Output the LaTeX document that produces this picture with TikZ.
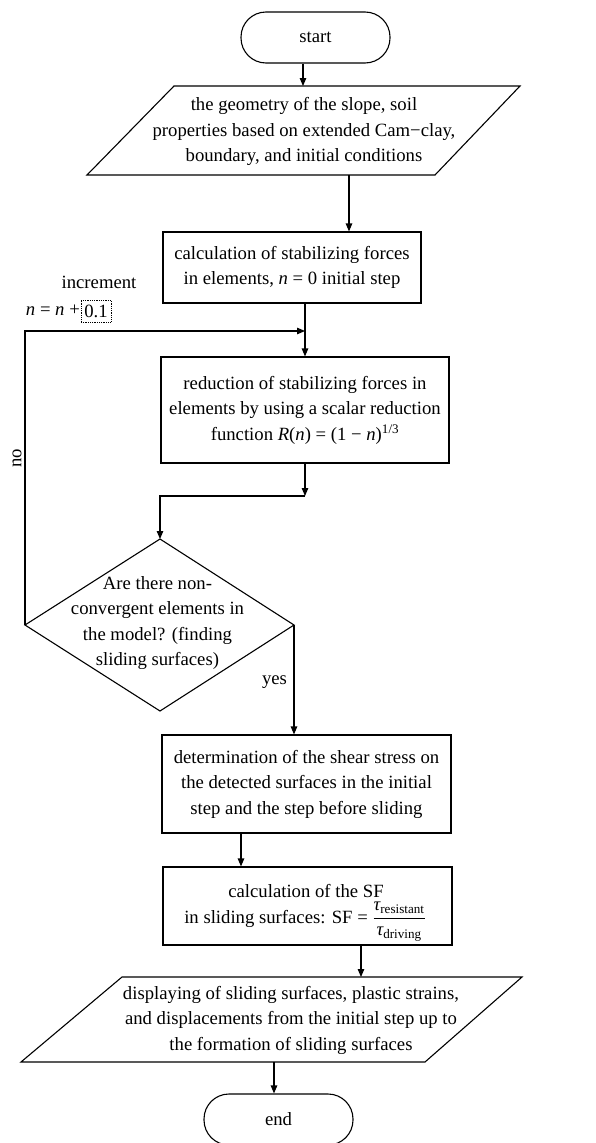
\RequirePackage{fix-cm}
\documentclass[tikz,border=0pt]{standalone}
\usepackage{amsmath}
\usepackage{fontspec}
\setmainfont{Liberation Serif}
\usetikzlibrary{arrows.meta}
\begin{document}
\begin{tikzpicture}[x=1pt,y=-1pt,
  every node/.style={font=\fontsize{18.7}{25.5}\selectfont, inner sep=0pt},
  box/.style={draw, line width=1.1pt, align=center},
  term/.style={draw, rounded corners=25pt, line width=1.1pt, minimum width=149pt, minimum height=51pt},
  txt/.style={align=center},
  arr/.style={-{Triangle[length=8pt,width=6.5pt]}, line width=1.1pt},
  ln/.style={line width=1.1pt}]
\useasboundingbox (0,0) rectangle (595,1143);

% start
\node[term] (start) at (315.5,37.5) {start};

% input parallelogram
\coordinate (p1a) at (174,86);
\coordinate (p1b) at (520,86);
\coordinate (p1c) at (435,175);
\coordinate (p1d) at (87,175);
\draw[ln] (p1a)--(p1b)--(p1c)--(p1d)--cycle;
\node[txt] (p1) at (304,131.5) {the geometry of the slope, soil\\properties based on extended Cam−clay,\\boundary, and initial conditions};

% boxes
\node[box, minimum width=258pt, minimum height=71pt] (b2) at (292,267.5)
  {calculation of stabilizing forces\\in elements, \textit{n} = 0 initial step};
\node[box, minimum width=288pt, minimum height=106pt] (b3) at (305,410)
  {reduction of stabilizing forces in\\elements by using a scalar reduction\\function \textit{R}(\textit{n}) = (1 − \textit{n})\textsuperscript{1/3}};

% decision
\coordinate (dT) at (160,539);
\coordinate (dL) at (25,625);
\coordinate (dR) at (294,625);
\coordinate (dB) at (160,711);
\draw[ln] (dT)--(dR)--(dB)--(dL)--cycle;
\node[txt] (dtext) at (157.5,623) {Are there non-\\convergent elements in\\the model? (finding\\sliding surfaces)};

\node[box, minimum width=289pt, minimum height=98pt] (b4) at (306.5,784)
  {determination of the shear stress on\\the detected surfaces in the initial\\step and the step before sliding};
\node[box, minimum width=289pt, minimum height=78pt] (b5) at (307.5,906) {};
\node[txt, anchor=base] (b5a) at (306,897) {calculation of the SF};
\node[anchor=base] (b5b) at (305,923) {in sliding surfaces: SF = $\dfrac{\text{\itshape τ}_{\text{resistant}}}{\text{\itshape τ}_{\text{driving}}}$};

% output parallelogram
\coordinate (p2a) at (122,977);
\coordinate (p2b) at (522,977);
\coordinate (p2c) at (425,1062);
\coordinate (p2d) at (21,1062);
\draw[ln] (p2a)--(p2b)--(p2c)--(p2d)--cycle;
\node[txt] (p2) at (291,1020) {displaying of sliding surfaces, plastic strains,\\and displacements from the initial step up to\\the formation of sliding surfaces};

% end
\node[term] (end) at (278.5,1119.5) {end};

% labels
\node (inc) at (99,282) {increment};
\node[anchor=east] (eq) at (80,310) {\textit{n} = \textit{n} +};
\node[draw, densely dotted, line width=0.8pt, minimum width=30pt, minimum height=22pt] (d01) at (96,311) {0.1};
\node[rotate=90] (no) at (17,458) {no};
\node (yes) at (274.5,682) {yes};

% connectors
\coordinate (s1) at ([xshift=-12.5pt]start.south);
\draw[arr] (s1) -- (s1 |- p1a);
\coordinate (a2) at (349,175);
\draw[arr] (a2) -- (a2 |- b2.north);
\draw[arr] (b2.south -| b3.north) -- (b3.north);
\coordinate (j1) at (b3.north |- 0,331);
\draw[arr] (dL) -- (dL |- j1) -- (j1);
\coordinate (j2) at (dT |- 0,496);
\draw[arr] (b3.south) -- (b3.south |- j2);
\draw[arr] (b3.south |- j2) -- (j2) -- (dT);
\draw[arr] (dR) -- (dR |- b4.north);
\coordinate (a6) at ([xshift=-65.5pt]b4.south);
\draw[arr] (a6) -- (a6 |- b5.north);
\coordinate (a7) at ([xshift=53.5pt]b5.south);
\draw[arr] (a7) -- (a7 |- p2a);
\coordinate (a8) at (274,1062);
\draw[arr] (a8) -- (a8 |- end.north);
\end{tikzpicture}
\end{document}
